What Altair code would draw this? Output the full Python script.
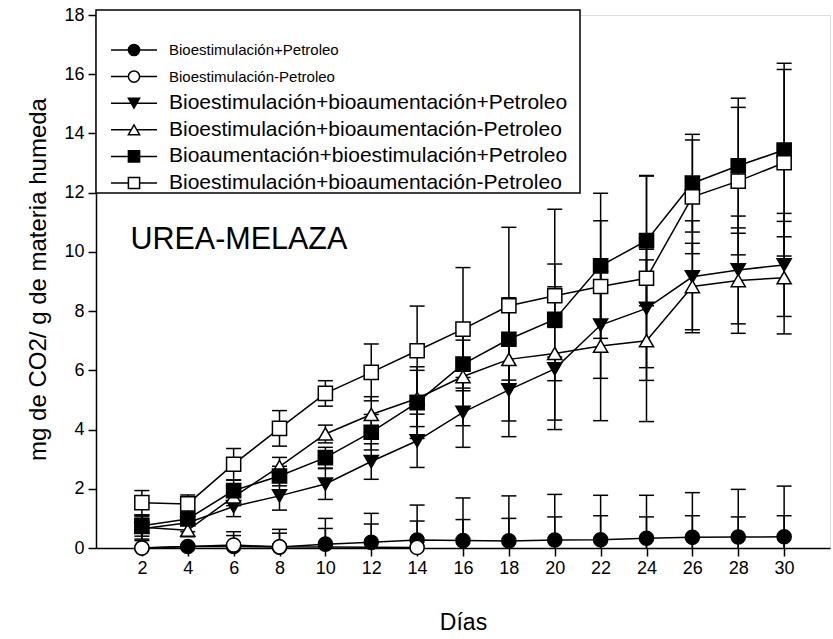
import altair as alt
import pandas as pd

FONT = "Liberation Sans"

# Sampling days
days = [2, 4, 6, 8, 10, 12, 14, 16, 18, 20, 22, 24, 26, 28, 30]

series_names = [
    "Bioestimulación+Petroleo",
    "Bioestimulación-Petroleo",
    "Bioestimulación+bioaumentación+Petroleo",
    "Bioestimulación+bioaumentación-Petroleo",
    "Bioaumentación+bioestimulación+Petroleo",
    "Bioestimulación+bioaumentación-Petroleo ",
]
series_shapes = ["circle", "circle", "triangle-down", "triangle-up", "square", "square"]
series_fills = ["black", "white", "black", "white", "black", "white"]

# Mean CO2 (mg / g wet matter) and standard deviation per series
fc_mean = [0.0, 0.05, 0.05, 0.03, 0.13, 0.19, 0.27, 0.25, 0.24, 0.27, 0.28, 0.33, 0.36, 0.37, 0.38]
fc_sd = [None, None, 0.50, 0.60, 0.87, 0.98, 1.18, 1.44, 1.52, 1.54, 1.50, 1.45, 1.51, 1.61, 1.71]

oc_mean = [0.0, None, 0.10, 0.04, None, None, 0.02, None, None, None, None, None, None, None, None]
oc_sd = [None, None, 0.32, 0.46, 0.66, 0.81, 0.89, 0.96, 1.00, 1.05, 1.09, 1.05, 1.09, 1.05, 1.09]

ft_mean = [0.65, 0.85, 1.40, 1.76, 2.16, 2.92, 3.62, 4.58, 5.34, 6.05, 7.53, 8.09, 9.16, 9.39, 9.56]
ft_sd = [0.40, 0.30, 0.34, 0.48, 0.52, 0.60, 0.90, 1.18, 1.58, 0.40, 1.80, 2.00, 1.89, 1.82, 1.74]

ot_mean = [0.70, 0.60, 1.73, 2.75, 3.85, 4.51, 5.05, 5.79, 6.37, 6.57, 6.82, 7.00, 8.83, 9.03, 9.13]
ot_sd = [0.40, 0.22, 0.30, 0.31, 0.30, 0.60, 0.95, 1.66, 2.08, 2.25, 2.52, 2.73, 1.46, 1.78, 1.90]

fs_mean = [0.75, 0.98, 1.94, 2.43, 3.05, 3.91, 4.91, 6.21, 7.05, 7.72, 9.53, 10.38, 12.32, 12.91, 13.44]
fs_sd = [0.35, 0.17, 0.35, 0.33, 0.35, 0.60, 1.21, 0.81, 1.38, 3.72, 2.45, 2.20, 1.65, 2.28, 2.93]

os_mean = [1.53, 1.49, 2.83, 4.04, 5.22, 5.93, 6.66, 7.39, 8.18, 8.52, 8.83, 9.11, 11.86, 12.39, 13.01]
os_sd = [0.41, 0.30, 0.53, 0.60, 0.43, 0.96, 1.51, 2.08, 2.65, 1.07, 2.22, 3.45, 1.92, 2.49, 3.15]

means = [fc_mean, oc_mean, ft_mean, ot_mean, fs_mean, os_mean]
sds = [fc_sd, oc_sd, ft_sd, ot_sd, fs_sd, os_sd]

legend_font_sizes = [15, 15, 21, 21, 21, 21]

# Long tables for points/lines and error bars
pts, errs = [], []
for k, (name, mean, sd) in enumerate(zip(series_names, means, sds)):
    for d, m, s in zip(days, mean, sd):
        if m is not None:
            pts.append({"serie": name, "orden": k, "dia": d, "media": m})
        if s is not None:
            # error bars of days without a plotted mean sit on the zero baseline
            c = m if m is not None else 0.0
            errs.append({"serie": name, "orden": k, "dia": d, "lo": c - s, "hi": c + s})
pts_df = pd.DataFrame(pts)
err_df = pd.DataFrame(errs)

x_scale = alt.Scale(domain=[0, 32], nice=False, zero=False)
y_scale = alt.Scale(domain=[0, 18], nice=False)
shape_scale = alt.Scale(domain=series_names, range=series_shapes)
fill_scale = alt.Scale(domain=series_names, range=series_fills)

x_axis = alt.Axis(
    values=days, title="Días", grid=False, domainColor="black", domainWidth=1.5,
    tickColor="black", tickWidth=1.5, tickSize=8, labelFont=FONT, labelFontSize=18,
    labelColor="black", labelPadding=3, titleFont=FONT, titleFontSize=23,
    titleFontWeight="normal", titleColor="black", titleX=367, titleY=74,
    titleBaseline="middle",
)
y_axis = alt.Axis(
    values=list(range(0, 19, 2)), title="mg de CO2/ g de materia humeda", grid=False,
    domainColor="black", domainWidth=1.5, tickColor="black", tickWidth=1.5, tickSize=8,
    labelFont=FONT, labelFontSize=18, labelColor="black", labelPadding=4,
    titleFont=FONT, titleFontSize=24, titleFontWeight="normal", titleColor="black",
    titleX=-58, titleY=264, titleBaseline="middle", titleAngle=270,
)

base_err = alt.Chart(err_df)
err_rule = base_err.mark_rule(color="black", strokeWidth=1.5, clip=True).encode(
    x=alt.X("dia:Q", scale=x_scale, axis=x_axis),
    y=alt.Y("lo:Q", scale=y_scale, axis=y_axis),
    y2="hi:Q",
)
cap_hi = base_err.mark_rule(color="black", strokeWidth=1.5, clip=True, xOffset=-7.5, x2Offset=7.5).encode(
    x="dia:Q", x2="dia:Q", y="hi:Q"
)
cap_lo = base_err.mark_rule(color="black", strokeWidth=1.5, clip=True, xOffset=-7.5, x2Offset=7.5).encode(
    x="dia:Q", x2="dia:Q", y="lo:Q"
)

lines = alt.Chart(pts_df).mark_line(color="black", strokeWidth=1.5).encode(
    x="dia:Q", y="media:Q", detail="serie:N", order="dia:Q"
)

points = alt.Chart(pts_df).mark_point(
    filled=True, stroke="black", strokeWidth=1.5, size=200, opacity=1
).encode(
    x="dia:Q",
    y="media:Q",
    shape=alt.Shape("serie:N", scale=shape_scale, legend=None),
    fill=alt.Fill("serie:N", scale=fill_scale, legend=None),
)

label_df = pd.DataFrame({"dia": [1.5], "valor": [10.4], "txt": ["UREA-MELAZA"]})
label = alt.Chart(label_df).mark_text(
    align="left", baseline="middle", font=FONT, fontSize=30.5, color="black"
).encode(x="dia:Q", y="valor:Q", text="txt:N")

# Legend box drawn in the upper-left corner of the plot
leg_rows = 6
row0, row_gap = 35, 26.6
leg_df = pd.DataFrame({
    "serie": series_names,
    "ypx": [row0 + i * row_gap for i in range(leg_rows)],
    "fs": legend_font_sizes,
    "txt": [s.strip() for s in series_names],
})
leg_box = alt.Chart(label_df).mark_rect(fill="white", stroke="black", strokeWidth=1.5).encode(
    x=alt.value(0), x2=alt.value(484), y=alt.value(-5), y2=alt.value(178)
)
leg_base = alt.Chart(leg_df)
leg_line = leg_base.mark_rule(color="black", strokeWidth=1.5).encode(
    x=alt.value(15), x2=alt.value(61), y=alt.Y("ypx:Q", scale=None)
)
leg_pts = leg_base.mark_point(filled=True, stroke="black", strokeWidth=1.5, size=125, opacity=1).encode(
    x=alt.value(38),
    y=alt.Y("ypx:Q", scale=None),
    shape=alt.Shape("serie:N", scale=shape_scale, legend=None),
    fill=alt.Fill("serie:N", scale=fill_scale, legend=None),
)
leg_txt = leg_base.mark_text(align="left", baseline="middle", font=FONT, color="black").encode(
    x=alt.value(73),
    y=alt.Y("ypx:Q", scale=None),
    text="txt:N",
    size=alt.Size("fs:Q", scale=None),
)

chart = alt.layer(
    err_rule, cap_hi, cap_lo, lines, points, label, leg_box, leg_line, leg_pts, leg_txt
).properties(
    width=734, height=533,
    padding={"left": 96, "top": 15, "right": 3, "bottom": 91},
    autosize=alt.AutoSizeParams(type="none"),
).configure_view(stroke=None).configure(background="white")

chart.save("out.html", embed_options={"renderer": "svg", "actions": False})
